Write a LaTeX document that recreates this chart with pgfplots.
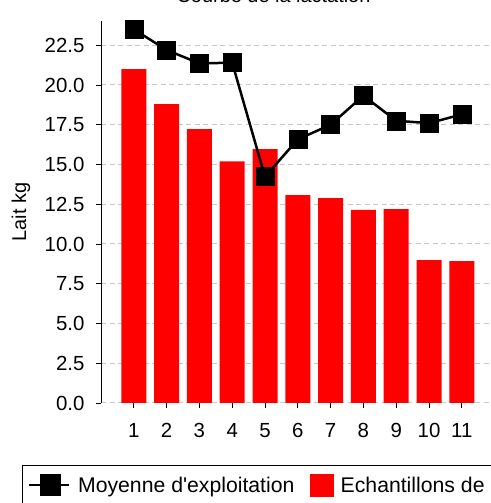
\documentclass[border=0pt]{standalone}
\usepackage{pgfplots}
\pgfplotsset{compat=1.18}
\usepackage{fontspec}
\setmainfont{Liberation Sans}
\definecolor{gridgray}{RGB}{200,200,200}
\begin{document}
\begin{tikzpicture}[x=1bp,y=1bp,font=\fontsize{20}{24}\selectfont]
\useasboundingbox (0,0) rectangle (491,503);
\clip (0,0) rectangle (491,503);
\node[anchor=base] at (273.5,500) {Courbe de la lactation};
\begin{axis}[
  at={(101bp,100bp)}, anchor=south west,
  scale only axis, width=393.6bp, height=381.6bp,
  xmin=0, xmax=12, ymin=0, ymax=24,
  axis y line*=left, axis x line*=bottom,
  x axis line style={draw=none},
  y axis line style={line width=1bp, -},
  tick align=outside,
  major tick length=5bp,
  tick style={black, line width=0.8bp},
  xtick={1,...,11},
  ytick={0,2.5,5,7.5,10,12.5,15,17.5,20,22.5},
  /pgf/number format/assume math mode=true,
  tick label style={font=\fontsize{20.5}{24}\selectfont},
  yticklabel style={xshift=-8bp, /pgf/number format/.cd, fixed, fixed zerofill, precision=1},
  xticklabel style={yshift=-12bp},
  ymajorgrids,
  grid style={gridgray, line width=1bp, dash pattern=on 5bp off 3.5bp},
  ylabel={Lait kg},
  ylabel style={at={(axis description cs:-0.2033,0.5)}, anchor=center},
  legend columns=2,
  legend style={at={(axis description cs:-0.2007,-0.1625)}, anchor=north west,
    font=\fontsize{21.3}{25}\selectfont,
    draw=black, line width=1.2bp, inner xsep=5bp, inner ysep=8bp,
    /tikz/every even column/.append style={column sep=14bp}},
]
\addplot[ybar, bar width=25bp, fill=red, draw=none, forget plot]
  coordinates {(1,21.0) (2,18.8) (3,17.23) (4,15.2) (5,15.97) (6,13.08) (7,12.89) (8,12.14) (9,12.2) (10,8.99) (11,8.93)};
\addplot[black, line width=2.5bp, mark=square*, mark size=9bp, mark options={solid, line width=0.5bp},
  legend image code/.code={\draw[black,line width=2.5bp] (0bp,0bp) -- (40bp,0bp); \fill[black] (12bp,-9.5bp) rectangle (31bp,9.5bp); \path (46bp,0bp);}]
  coordinates {(1,23.5) (2,22.2) (3,21.36) (4,21.4) (5,14.23) (6,16.58) (7,17.5) (8,19.33) (9,17.75) (10,17.6) (11,18.15)};
\addlegendentry{Moyenne d\textquotesingle exploitation}
\addlegendimage{legend image code/.code={\fill[red] (0bp,-11bp) rectangle (22bp,11bp); \path (27bp,0bp);}}
\addlegendentry{Echantillons de lait}
\end{axis}
\end{tikzpicture}
\end{document}
